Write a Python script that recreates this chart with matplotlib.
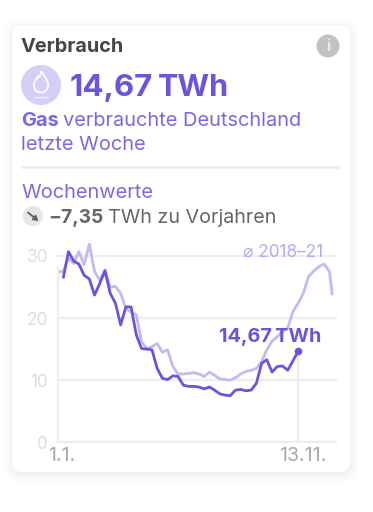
import matplotlib
matplotlib.use("Agg")
import matplotlib.pyplot as plt
from matplotlib.patches import FancyBboxPatch, Circle, PathPatch
from matplotlib.path import Path

W, H = 373, 512
FONT = ["Inter", "DejaVu Sans"]
plt.rcParams["font.family"] = FONT

PURPLE = "#6A55DC"
TEXT_PURPLE = "#7C68E4"
LIGHT = "#C4BAF1"

y_ticks = [0, 10, 20, 30]
x_labels = ["1.1.", "13.11."]
avg_weeks = list(range(53)) + [52.55]
avg_weeks = sorted(set(avg_weeks))
avg_values = [27.5, 27.5, 29.6, 28.8, 30.7, 28.6, 31.9, 27.5, 26.1, 27.8, 25.0, 25.1, 24.0, 21.5,
              21.0, 20.5, 16.2, 15.1, 15.4, 15.9, 14.5, 14.9, 12.2, 11.0, 11.0, 11.1, 11.2, 11.0,
              10.6, 11.3, 10.8, 10.2, 10.1, 10.0, 10.4, 11.0, 11.4, 11.6, 11.9, 13.0, 14.9, 16.3,
              17.0, 17.8, 18.4, 21.0, 22.4, 24.0, 26.7, 27.6, 28.3, 28.7, 27.5, 23.7]
cur_weeks = list(range(1, 47))
cur_values = [26.4, 30.7, 29.2, 28.7, 26.9, 26.3, 23.7, 25.6, 27.6, 24.0, 22.4, 18.9, 21.8, 21.8,
              17.3, 15.1, 15.0, 14.9, 11.9, 10.3, 10.1, 10.7, 10.6, 9.2, 9.0, 9.0, 8.9, 8.6, 8.9,
              8.4, 7.8, 7.6, 7.5, 8.4, 8.5, 8.3, 8.4, 9.5, 12.7, 13.3, 11.3, 12.2, 12.3, 11.6,
              13.1, 14.67]

fig = plt.figure(figsize=(W / 100, H / 100), dpi=100, facecolor="white")
bg = fig.add_axes([0, 0, 1, 1])
bg.set_xlim(0, W)
bg.set_ylim(H, 0)
bg.axis("off")

# card with soft shadow
for grow, alpha in [(9, .006), (7, .008), (5, .010), (3, .012), (1, .016)]:
    bg.add_patch(FancyBboxPatch((12 - grow, 25 - grow + 2), 338 + 2 * grow, 447 + 2 * grow,
                                boxstyle=f"round,pad=0,rounding_size={10 + grow}",
                                fc="black", ec="none", alpha=alpha))
bg.add_patch(FancyBboxPatch((12, 25), 338, 447, boxstyle="round,pad=0,rounding_size=10",
                            fc="white", ec="none"))

bg.text(21, 46.5, "Verbrauch", fontsize=14.3, fontweight="bold", color="#45454B", va="center")
bg.add_patch(Circle((328, 46), 11.5, fc="#C2C2C2", ec="none"))
bg.text(328, 46.5, "i", fontsize=11, fontweight="bold", color="#E8E8E8", ha="center", va="center")

# gas icon
bg.add_patch(Circle((41, 85), 20, fc="#D6CEF6", ec="none"))
flame = Path([(41, 71), (44, 76), (48, 79), (48, 85), (48, 91), (44, 92.5), (41, 92.5),
              (38, 92.5), (34, 91), (34, 85), (34, 81), (37, 79), (38, 76.5), (39.5, 78), (41, 75), (41, 71)],
             [Path.MOVETO, Path.CURVE4, Path.CURVE4, Path.CURVE4, Path.CURVE4, Path.CURVE4, Path.CURVE4,
              Path.CURVE4, Path.CURVE4, Path.CURVE4, Path.CURVE4, Path.CURVE4, Path.CURVE4, Path.CURVE4,
              Path.CURVE4, Path.CURVE4])
bg.add_patch(PathPatch(flame, fc="none", ec="white", lw=1.3))
bg.plot([34, 48], [97, 97], color="white", lw=1, ls=(0, (1.5, 0.6)))

bg.text(70, 88, "14,67", fontsize=22.5, fontweight="bold", color=PURPLE, va="center")
bg.text(158, 88, "TWh", fontsize=22, fontweight="bold", color=PURPLE, va="center")
bg.text(21, 120.5, "Gas", fontsize=14.4, fontweight="bold", color=TEXT_PURPLE, va="center")
bg.text(63, 120.5, "verbrauchte Deutschland", fontsize=14.4, color=TEXT_PURPLE, va="center")
bg.text(21, 145.5, "letzte Woche", fontsize=14.4, color=TEXT_PURPLE, va="center")
bg.plot([21, 340], [167, 167], color="#EEEEEE", lw=2, solid_capstyle="butt")
bg.text(21, 192.5, "Wochenwerte", fontsize=14.4, color=TEXT_PURPLE, va="center")
bg.add_patch(Circle((33, 216), 10, fc="#E6E6E6", ec="none"))
bg.annotate("", xy=(38.5, 221), xytext=(28, 212.5),
            arrowprops=dict(arrowstyle="-|>,head_width=0.16,head_length=0.26", color="#666666", lw=1.4,
                            shrinkA=0, shrinkB=0))
bg.text(48, 218, "−7,35", fontsize=13.8, fontweight="bold", color="#666666", va="center")
bg.text(108, 218, "TWh zu Vorjahren", fontsize=14.2, color="#666666", va="center")

# chart, pixel box 58..336 wide and y 256..442
ax = fig.add_axes([58 / W, 1 - 442.3 / H, 278 / W, 186.3 / H])
ax.patch.set_alpha(0)
ax.set_xlim(0, 278 / 5.22)
ax.set_ylim(0, 30)
for s in ax.spines.values():
    s.set_visible(False)
ax.spines["left"].set_visible(True)
ax.spines["left"].set_color("#EEEEEE")
ax.spines["left"].set_linewidth(1.6)
ax.spines["left"].set_bounds(0, 28)
ax.set_yticks(y_ticks)
ax.set_yticklabels([str(v) for v in y_ticks], fontsize=12.5, color="#DEDEDE")
ax.tick_params(axis="y", length=0, pad=7)
ax.set_xticks([])
ax.grid(axis="y", color="#EEEEEE", lw=1.6)
ax.set_axisbelow(True)
for t in y_ticks:
    ax.axhline(t, color="#EEEEEE", lw=1.6, zorder=0.5, clip_on=False)

ax.plot(cur_weeks[-1:] * 2, [0, cur_values[-1]], color="#E4E4E4", lw=1.1, zorder=1)
ax.plot(avg_weeks, avg_values, color=LIGHT, lw=2.0, clip_on=False, zorder=2,
        solid_joinstyle="round", solid_capstyle="butt")
ax.plot(cur_weeks, cur_values, color=PURPLE, lw=2.0, clip_on=False, zorder=3,
        solid_joinstyle="round", solid_capstyle="butt")
ax.plot(cur_weeks[-1:], cur_values[-1:], "o", color=PURPLE, ms=5.5, mew=0, zorder=4, clip_on=False)

ax.text(cur_weeks[-1] + 4.5, cur_values[-1] + 0.8, "14,67\u2009TWh", fontsize=14.3, fontweight="bold",
        color=PURPLE, ha="right", va="bottom", zorder=5)
ax.text(50.7, 30.6, "⌀ 2018–21", fontsize=12.4, color="#B6A9EE", ha="right", va="center", family=FONT)

bg.text(62, 456, x_labels[0], fontsize=14, color="#A8A8A8", ha="center", va="center")
bg.text(303, 456, x_labels[1], fontsize=14.2, color="#A8A8A8", ha="center", va="center")

fig.savefig("out.png", dpi=100)
